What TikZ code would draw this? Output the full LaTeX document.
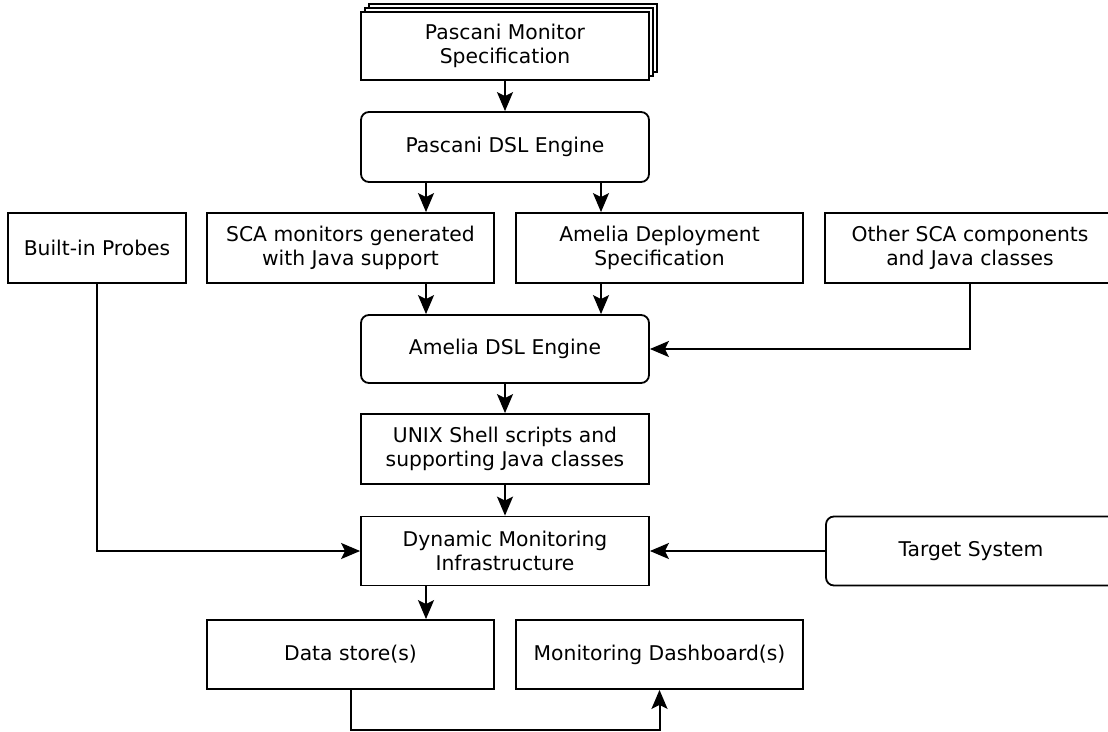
\documentclass[tikz,border=0pt]{standalone}
\usepackage{fontspec}
\setmainfont{DejaVu Sans}
\usetikzlibrary{arrows.meta}

\begin{document}
\begin{tikzpicture}[
  x=1pt, y=-1pt,
  box/.style={draw=black, line width=1.8pt, fill=white, minimum width=288pt, minimum height=69pt,
    inner sep=2pt, align=center, font=\fontsize{20.3}{24}\selectfont},
  rbox/.style={box, rounded corners=8pt},
  sheet/.style={draw=black, fill=white, line width=1.8pt},
  arr/.style={line width=2pt, -{Stealth[length=19pt,width=16pt,inset=4pt]}},
]
\useasboundingbox (0,0) rectangle (1108,731);
\fill[white] (0,0) rectangle (1108,731);
\clip (0,0) rectangle (1108,731);

% stacked specification documents
\draw[sheet] (369,4) rectangle (657,72);
\draw[sheet] (365,8) rectangle (653,76);
\node[box, minimum height=68pt] (spec) at (505,46) {Pascani Monitor\\Specification};

\node[rbox, minimum height=70pt] (pdsl) at (505,147) {Pascani DSL Engine};

\node[box, minimum width=178pt, minimum height=70pt] (probes) at (97,248) {Built-in Probes};
\node[box, minimum width=287pt, minimum height=70pt] (sca) at (350.5,248) {SCA monitors generated\\with Java support};
\node[box, minimum width=287pt, minimum height=70pt] (adep) at (659.5,248) {Amelia Deployment\\Specification};
\node[box, minimum width=290pt, minimum height=70pt] (other) at (970,248) {Other SCA components\\and Java classes};

\node[rbox, minimum height=68pt] (adsl) at (505,349) {Amelia DSL Engine};
\node[box, minimum height=70pt] (unix) at (505,449) {UNIX Shell scripts and\\supporting Java classes};
\node[box] (dmi) at (505,551) {Dynamic Monitoring\\Infrastructure};
\node[rbox, minimum width=290pt] (target) at (971,551) {Target System};

\node[box, minimum width=287pt] (store) at (350.5,654.5) {Data store(s)};
\node[box, minimum width=287pt] (dash) at (659.5,654.5) {Monitoring Dashboard(s)};

% connectors
\draw[arr] (spec.south) -- (pdsl.north);
\draw[arr] ([xshift=-79pt]pdsl.south) -- ([xshift=-79pt]pdsl.south |- sca.north);
\draw[arr] ([xshift=96pt]pdsl.south) -- ([xshift=96pt]pdsl.south |- adep.north);
\draw[arr] ([xshift=-79pt]adsl.north |- sca.south) -- ([xshift=-79pt]adsl.north);
\draw[arr] ([xshift=96pt]adsl.north |- adep.south) -- ([xshift=96pt]adsl.north);
\draw[arr] (other.south) |- (adsl.east);
\draw[arr] (adsl.south) -- (unix.north);
\draw[arr] (unix.south) -- (dmi.north);
\draw[arr] (probes.south) |- (dmi.west);
\draw[arr] (target.west) -- (dmi.east);
\draw[arr] ([xshift=-79pt]dmi.south) -- ([xshift=-79pt]dmi.south |- store.north);
\draw[arr] (store.south) -- ++(0,40) -| (dash.south);
\end{tikzpicture}
\end{document}
